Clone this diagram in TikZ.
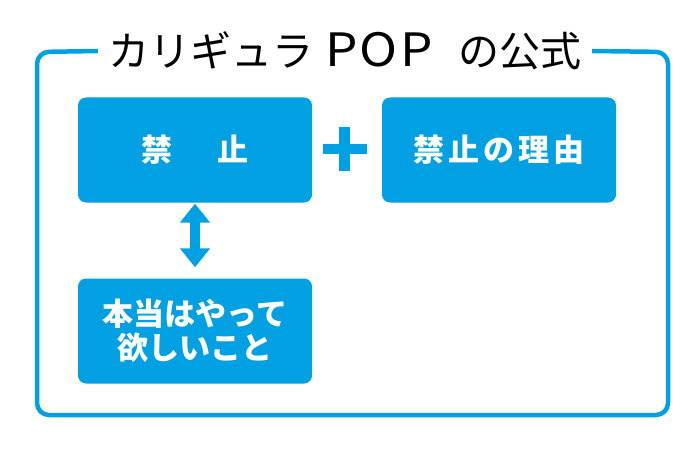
\documentclass[tikz,border=0pt]{standalone}
\usepackage{fontspec}
\usepackage{graphicx}
\setmainfont{Noto Sans CJK JP}
\usepackage{tikz}
\usetikzlibrary{arrows.meta, positioning, calc}
\definecolor{popblue}{HTML}{00A0E3}
\tikzstyle{formbox} = [rectangle, rounded corners=8pt, minimum width=234pt, minimum height=105pt, text centered, fill=popblue, text=white, font=\bfseries\fontsize{31}{34}\selectfont, align=center]
\tikzstyle{frame} = [draw=popblue, line width=4.5pt, rounded corners=12pt]
\tikzstyle{swap} = [popblue, line width=9.5pt, {Triangle[length=19pt,width=29pt]}-{Triangle[length=19pt,width=29pt]}]

\begin{document}
\begin{tikzpicture}[x=1pt, y=-1pt]
\useasboundingbox (0,0) rectangle (700,449);
\node (title) [inner xsep=10pt, font=\fontsize{41}{48}\selectfont] at (345,51) {カリギュラ\hspace{12pt}\scalebox{1.25}[1.12]{P\kern2pt O\kern2pt P}\hspace{26pt}の公式};
\node (ban) [formbox] at (195,150) {禁\hspace{46pt}止};
\node (reason) [formbox] at (499,150) {禁\kern4pt 止\kern4pt の\kern4pt 理\kern4pt 由};
\node (wish) [formbox] at (195,331) {本当はやって\\欲しいこと};
\coordinate (plus) at (344.5,149);

% frame around the formula
\draw [frame] (title.west) -- (37,52) -- (37,415) -- (668,415) -- (668,52) -- (title.east);

% plus sign
\draw [popblue, line width=10.5pt] ($(plus)+(-22,0)$) -- ($(plus)+(22,0)$);
\draw [popblue, line width=10.5pt] ($(plus)+(0,-22)$) -- ($(plus)+(0,22)$);

\draw [swap] ([yshift=-1pt]ban.south) -- ([yshift=11pt]wish.north);
\end{tikzpicture}
\end{document}
